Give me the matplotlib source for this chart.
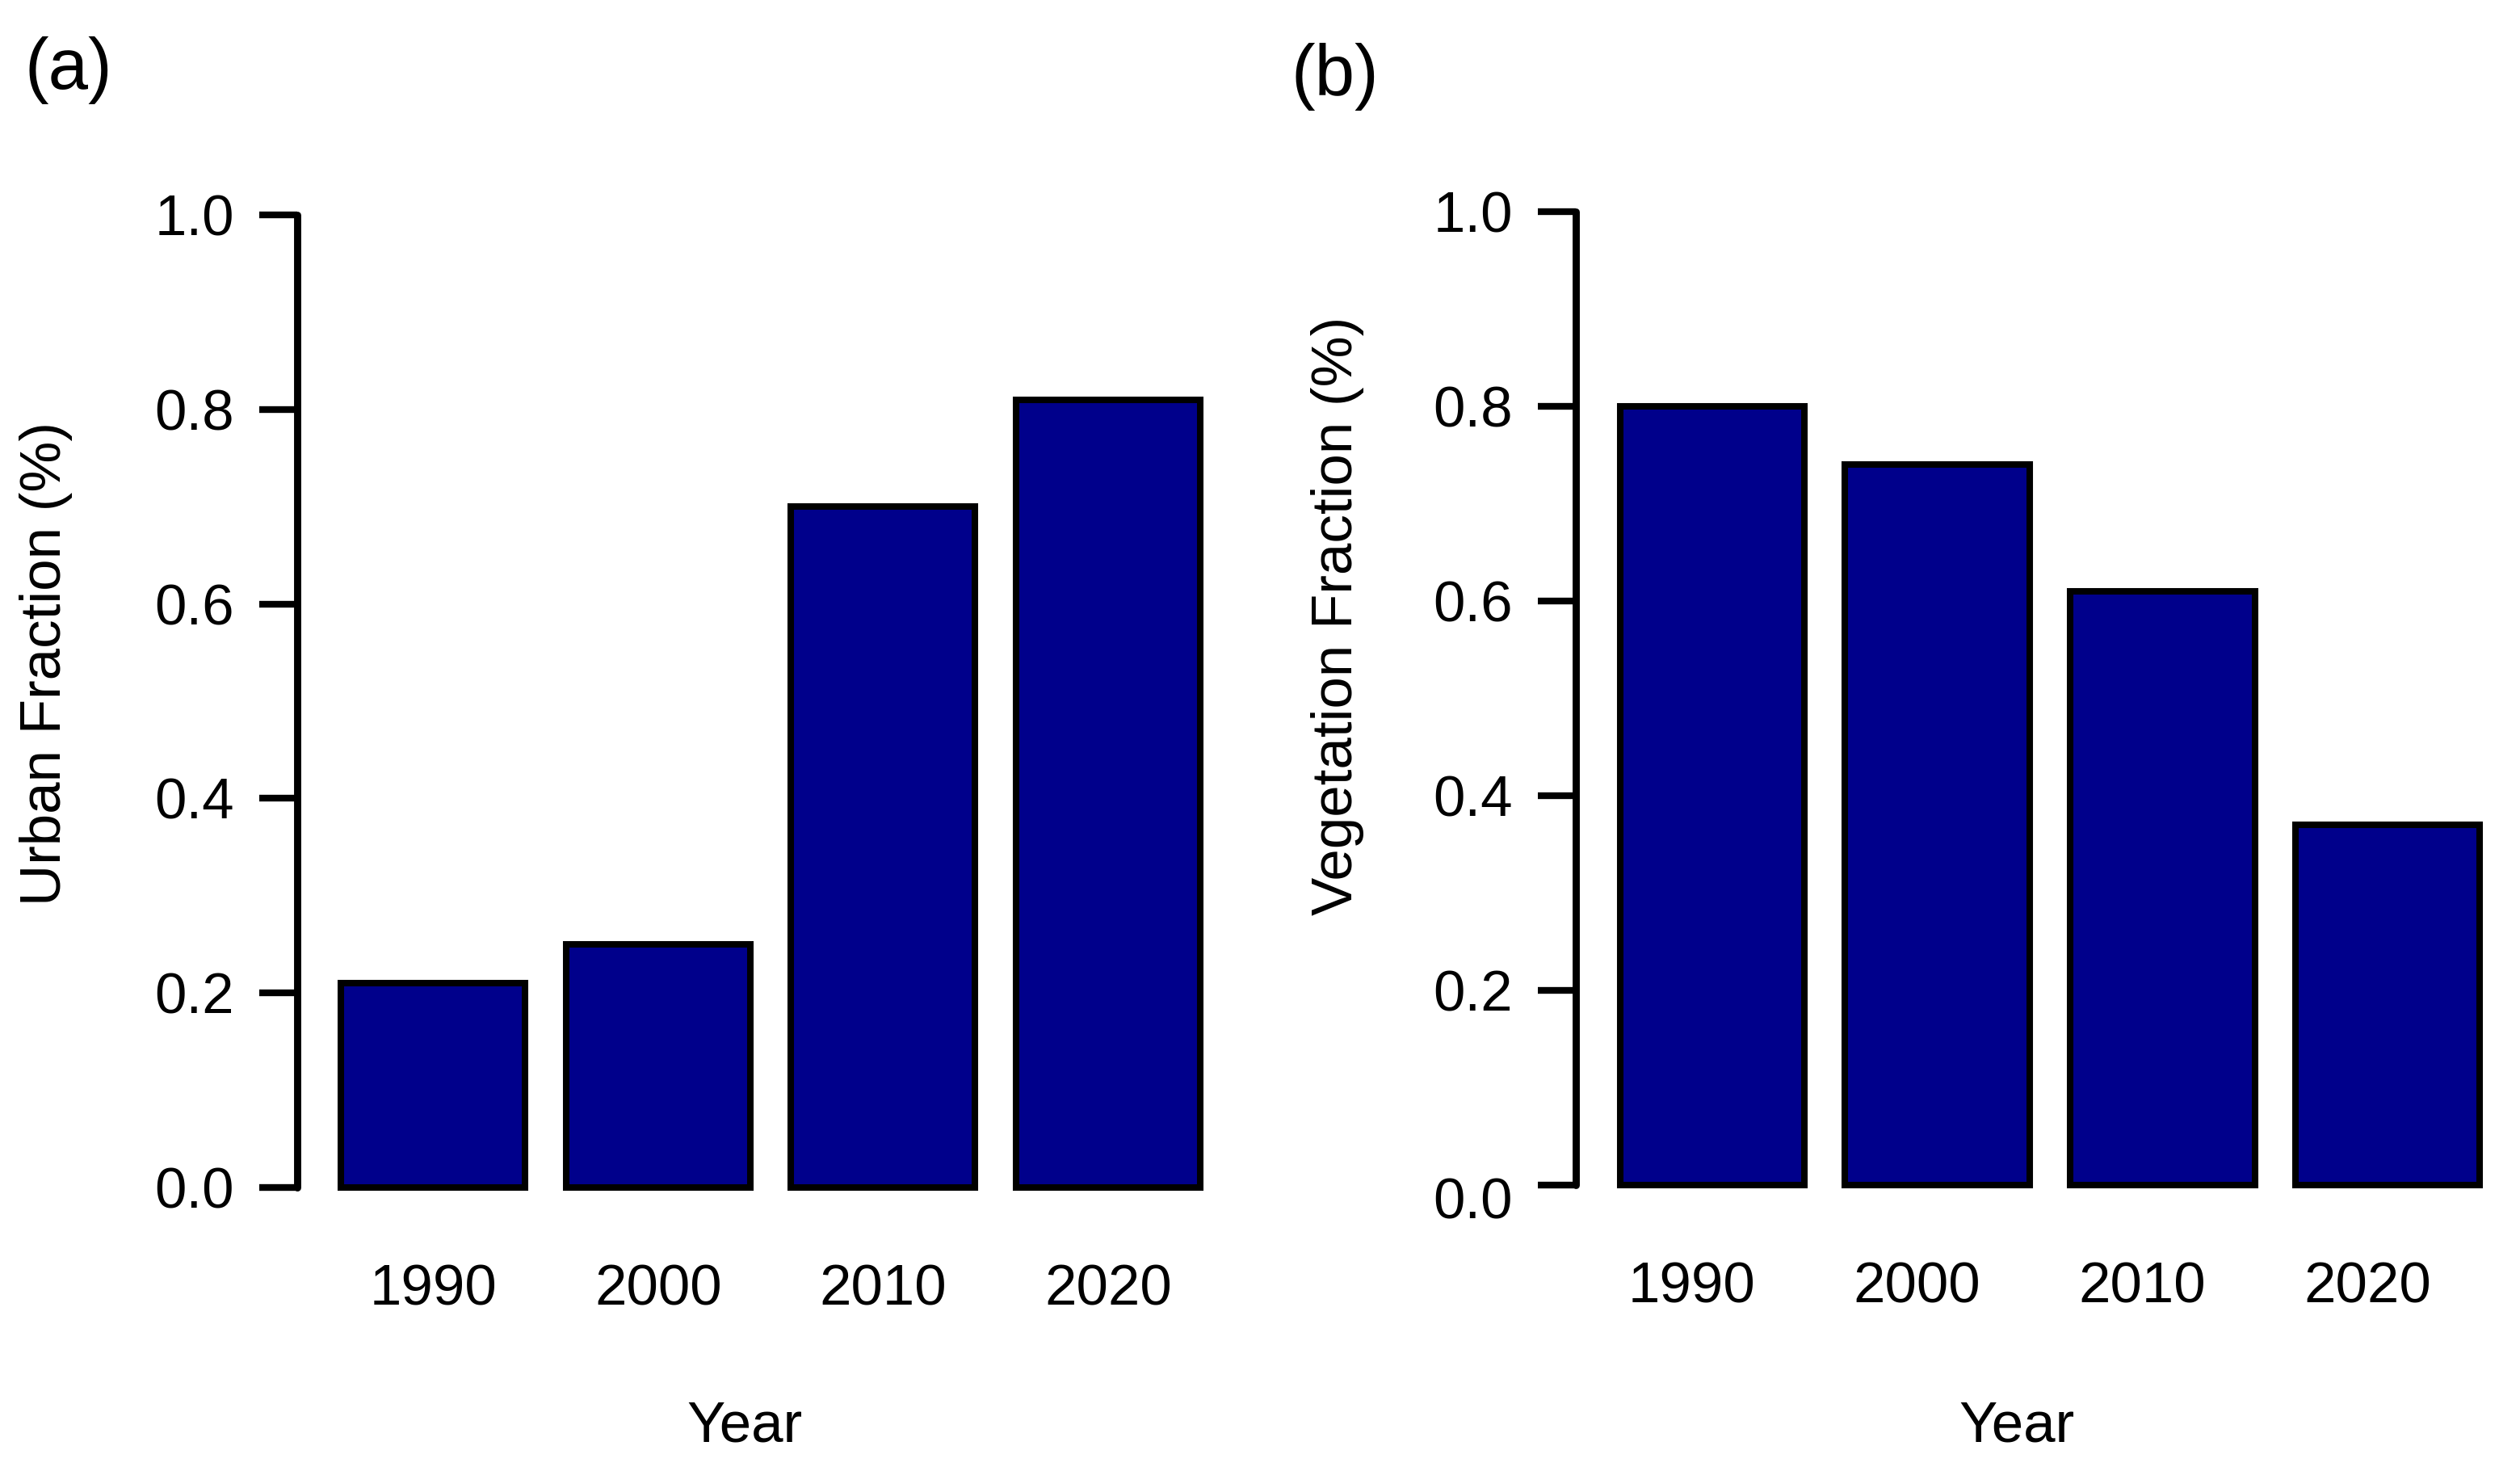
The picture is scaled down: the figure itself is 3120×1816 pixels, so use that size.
import numpy as np
import matplotlib
matplotlib.use("Agg")
from matplotlib import pyplot as plt
from matplotlib.transforms import ScaledTranslation

plt.rcParams['font.family'] = ['Liberation Sans', 'DejaVu Sans']

years = ["1990", "2000", "2010", "2020"]
urban = [0.21, 0.25, 0.70, 0.81]
vegetation = [0.80, 0.74, 0.61, 0.37]
yticks = [0.0, 0.2, 0.4, 0.6, 0.8, 1.0]
ytick_labels = ["0.0", "0.2", "0.4", "0.6", "0.8", "1.0"]

bar_color = "#00008B"
W, H = 3120, 1816
DPI = 200


def shiftText(fig, txt, dx, dy):
    off = ScaledTranslation(dx / DPI, dy / DPI, fig.dpi_scale_trans)
    txt.set_transform(txt.get_transform() + off)


def drawPanel(fig, rect, xlim, values, ylabel, ylabelPos, xlabelPos, xshift=0, zeroShift=0):
    ax = fig.add_axes(rect)
    x = np.arange(len(years))
    ax.bar(x, values, width=0.82, color=bar_color, edgecolor="black",
           linewidth=2.9, clip_on=False, zorder=3)
    ax.set_xlim(*xlim)
    ax.set_ylim(0, 1)
    for s in ["top", "right", "bottom"]:
        ax.spines[s].set_visible(False)
    ax.spines["left"].set_linewidth(3.2)
    ax.spines["left"].set_capstyle("round")
    ax.set_yticks(yticks)
    ax.set_yticklabels(ytick_labels)
    ax.tick_params(axis="y", length=17, width=3.0, pad=11, labelsize=25.5)
    ax.set_xticks(x)
    ax.set_xticklabels(years)
    ax.tick_params(axis="x", length=0, pad=34, labelsize=25.5)
    if xshift:
        for lab in ax.get_xticklabels():
            shiftText(fig, lab, xshift, 0)
    if zeroShift:
        shiftText(fig, ax.get_yticklabels()[0], 0, zeroShift)
    ax.set_ylabel(ylabel, fontsize=25.5, va="center")
    ax.yaxis.set_label_coords(*ylabelPos)
    ax.set_xlabel("Year", fontsize=25.5, va="baseline")
    ax.xaxis.set_label_coords(*xlabelPos)
    return ax


fig = plt.figure(figsize=(W / DPI, H / DPI), dpi=DPI)

# panel (a)
drawPanel(fig, [368 / W, (H - 1470) / H, 1172 / W, 1204 / H], (-0.604, 3.604), urban,
          "Urban Fraction (%)", (-0.265, 0.539), (0.473, -0.2616))
# panel (b)
drawPanel(fig, [1951 / W, (H - 1467) / H, 1174 / W, 1205 / H], (-0.606, 3.606), vegetation,
          "Vegetation Fraction (%)", (-0.251, 0.585), (0.465, -0.2639),
          xshift=-25, zeroShift=-16)

fig.text(30 / W, (H - 110) / H, "(a)", fontsize=32, ha="left", va="baseline")
fig.text(1599 / W, (H - 118) / H, "(b)", fontsize=32, ha="left", va="baseline")

fig.savefig("out.png", dpi=DPI)
